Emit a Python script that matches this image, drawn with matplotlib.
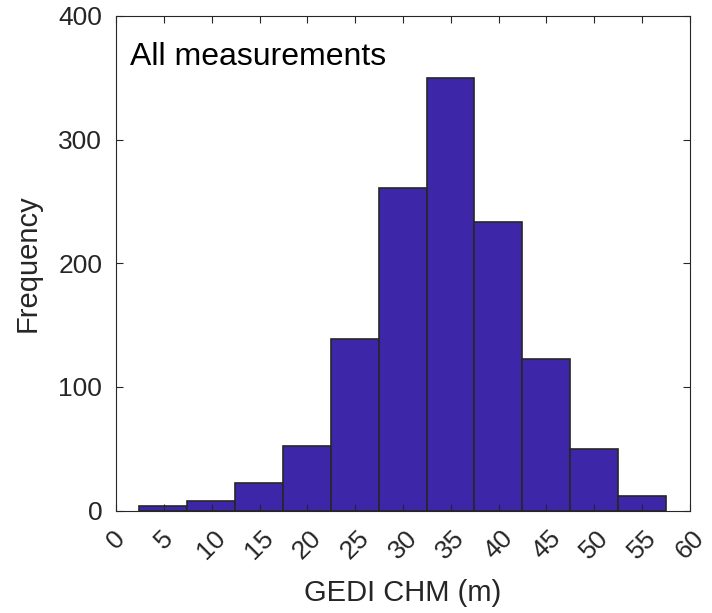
import matplotlib
matplotlib.use('Agg')
import matplotlib.pyplot as plt
import numpy as np

# histogram bin edges (m) and counts
edges = [2.4, 7.41, 12.42, 17.43, 22.44, 27.45, 32.46, 37.47, 42.48, 47.49, 52.5, 57.51]
counts = [4, 8, 22, 52, 139, 261, 350, 233, 123, 50, 12]
xticks = list(range(0, 61, 5))
yticks = [0, 100, 200, 300, 400]

plt.rcParams['font.family'] = ['Liberation Sans', 'DejaVu Sans']
txt = '#262626'

fig = plt.figure(figsize=(7.12, 6.13), dpi=100)
ax = fig.add_axes([0.163, 0.167, 0.806, 0.807])

left = np.array(edges[:-1])
widths = np.diff(edges)
ax.bar(left, counts, width=widths, align='edge', color='#3e26a8',
       edgecolor='#262626', linewidth=1.2)

ax.set_xlim(0, 60)
ax.set_ylim(0, 400)
ax.set_xticks(xticks)
ax.set_yticks(yticks)
ax.set_xticklabels([str(t) for t in xticks], rotation=45, ha='center', va='top')
ax.tick_params(direction='in', length=5, width=0.8, top=True, right=True,
               labelsize=19, colors=txt, labelcolor=txt)
ax.tick_params(axis='x', pad=11)
ax.tick_params(axis='y', pad=10)
for s in ax.spines.values():
    s.set_color(txt)
    s.set_linewidth(0.8)

ax.set_xlabel('GEDI CHM (m)', fontsize=21, color=txt, labelpad=11)
ax.set_ylabel('Frequency', fontsize=21, color=txt, labelpad=12)
ax.text(0.025, 0.917, 'All measurements', transform=ax.transAxes,
        fontsize=23, color='black', va='center', ha='left')

fig.savefig('out.png', dpi=100)
